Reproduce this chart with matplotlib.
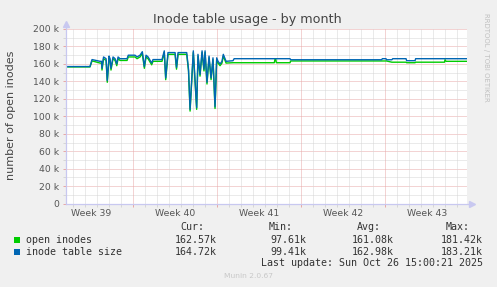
import matplotlib
matplotlib.use("Agg")
import matplotlib.pyplot as plt
from matplotlib.patches import Rectangle

plt.rcParams['font.family'] = ['DejaVu Sans']

# ---- data (days since Mon 2025-09-22 00:00, values in thousands) ----
days = [1.39, 3.39, 3.56, 4.23, 4.35, 4.39, 4.52, 4.73, 4.83, 4.98, 5.06, 5.14,
        5.31, 5.48, 5.62, 5.73, 5.89, 6.48, 6.58, 7.14, 7.31, 7.56, 7.75, 7.92,
        8.06, 8.23, 8.53, 8.64, 9.39, 9.58, 9.70, 9.89, 10.48, 10.60, 10.73,
        11.45, 11.60, 11.73, 12.00, 12.28, 12.39, 12.56, 12.73, 12.89, 12.98,
        13.14, 13.31, 13.48, 13.64, 13.81, 13.95, 14.06, 14.23, 14.39, 14.50,
        14.73, 15.31, 15.40, 18.75, 18.80, 18.88, 18.92, 20.06, 20.12, 27.70,
        27.75, 28.06, 28.10, 28.55, 28.62, 29.73, 29.78, 30.48, 30.53, 32.93,
        32.98, 33.06, 34.81]
inode_table_size = [157.0, 157.0, 165.0, 163.0, 163.0, 155.0, 168.0, 166.0, 141.0,
                    169.0, 166.0, 155.0, 168.0, 166.0, 160.0, 168.0, 166.0, 166.0,
                    170.0, 170.0, 168.0, 170.0, 174.0, 157.0, 170.0, 168.0, 161.0,
                    165.0, 165.0, 175.0, 144.0, 173.0, 173.0, 156.0, 173.0, 173.0,
                    154.0, 108.0, 175.0, 110.0, 171.0, 148.0, 175.0, 154.0, 175.0,
                    139.0, 169.0, 144.0, 167.0, 111.0, 167.0, 163.0, 160.0, 163.0,
                    171.0, 163.0, 163.7, 166.0, 166.0, 166.0, 166.0, 166.0, 166.0,
                    164.8, 164.8, 166.0, 166.0, 164.8, 164.8, 166.0, 166.0, 163.7,
                    163.7, 166.0, 166.0, 166.0, 166.0, 166.0]
open_inodes = [156.6, 156.6, 163.5, 161.0, 161.0, 153.0, 166.0, 164.0, 139.0,
               167.0, 164.0, 153.0, 166.0, 164.0, 158.0, 166.0, 164.0, 164.0,
               168.0, 168.0, 166.0, 168.0, 172.0, 155.0, 168.0, 166.0, 159.0,
               163.0, 163.0, 173.0, 142.0, 171.0, 171.0, 154.0, 171.0, 171.0,
               152.0, 106.0, 173.0, 108.0, 169.0, 146.0, 173.0, 152.0, 173.0,
               137.0, 167.0, 142.0, 165.0, 109.0, 165.0, 161.0, 158.0, 161.0,
               169.0, 161.0, 161.4, 161.4, 161.4, 165.0, 165.0, 161.4, 161.4,
               163.4, 163.4, 163.4, 163.4, 163.4, 162.0, 162.0, 162.0, 161.4,
               161.4, 162.0, 162.0, 164.8, 163.0, 163.0]

week_labels = ["Week 39", "Week 40", "Week 41", "Week 42", "Week 43"]
week_centers = [3.5, 10.5, 17.5, 24.5, 31.5]
week_bounds = [7, 14, 21, 28]
y_ticks = [0, 20, 40, 60, 80, 100, 120, 140, 160, 180, 200]
y_tick_labels = ["0"] + [f"{v} k" for v in y_ticks[1:]]

series_names = ["open inodes", "inode table size"]
series_colors = ["#00CC00", "#0066B3"]
stat_headers = ["Cur:", "Min:", "Avg:", "Max:"]
stats = [["162.57k", "97.61k", "161.08k", "181.42k"],
         ["164.72k", "99.41k", "162.98k", "183.21k"]]
last_update = "Last update: Sun Oct 26 15:00:21 2025"

# ---- figure ----
W, H = 497, 287
fig = plt.figure(figsize=(W / 100, H / 100), dpi=100, facecolor="#F0F0F0")

def fx(x):
    return x / W

def fy(y):
    return 1 - y / H

ax_l, ax_r, ax_t, ax_b = 66, 467, 29, 203.7
ax = fig.add_axes([fx(ax_l), fy(ax_b), (ax_r - ax_l) / W, (ax_b - ax_t) / H])
ax.set_facecolor("white")
xmin, xmax = 1.39, 34.81
ax.set_xlim(xmin, xmax)
ax.set_ylim(0, 200)
for s in ax.spines.values():
    s.set_visible(False)

minor_c = "#D6D6D6"
major_c = "#E8A8A8"
dash = (0, (1, 1))
# horizontal grid
for v in range(10, 201, 10):
    c = major_c if v % 20 == 0 else minor_c
    ax.axhline(v, color=c, lw=0.72, ls=dash, zorder=1)
# vertical grid
for d in range(2, 35):
    c = major_c if d % 7 == 0 else minor_c
    ax.axvline(d, color=c, lw=0.72, ls=dash, zorder=1)

# ticks
ax.set_yticks(y_ticks)
ax.set_yticklabels(y_tick_labels)
ax.set_yticks(list(range(10, 200, 20)), minor=True)
ax.tick_params(axis="y", which="major", length=2.5, width=0.72, color=major_c,
               pad=2.6, labelsize=6.7, labelcolor="#555555")
ax.tick_params(axis="y", which="minor", length=2.5, width=0.72, color=minor_c)
ax.set_xticks(week_bounds)
ax.set_xticklabels([])
ax.set_xticks([d for d in range(2, 35) if d % 7 != 0], minor=True)
ax.tick_params(axis="x", which="major", length=2.5, width=0.72, color=major_c)
ax.tick_params(axis="x", which="minor", length=2.5, width=0.72, color=minor_c)
for c, lab in zip(week_centers, week_labels):
    ax.annotate(lab, xy=(c, 0), xycoords=("data", "axes fraction"),
                xytext=(0, -6.9), textcoords="offset points",
                ha="center", va="center", fontsize=6.7, color="#555555")

# lines
ax.plot(days, open_inodes, color=series_colors[0], lw=1.0, zorder=3)
ax.plot(days, inode_table_size, color=series_colors[1], lw=1.0, zorder=4)

# axis lines with arrows
axis_c = "#C8C8F0"
ax.plot([0, 0], [0, 1 + 5 / (ax_b - ax_t)], transform=ax.transAxes, color=axis_c,
        lw=0.9, clip_on=False, zorder=5)
ax.plot([0], [1 + 5 / (ax_b - ax_t)], marker="^", ms=4, color=axis_c,
        transform=ax.transAxes, clip_on=False, zorder=5)
ax.plot([0, 1 + 5 / (ax_r - ax_l)], [0, 0], transform=ax.transAxes, color=axis_c,
        lw=0.9, clip_on=False, zorder=5)
ax.plot([1 + 5 / (ax_r - ax_l)], [0], marker=">", ms=4, color=axis_c,
        transform=ax.transAxes, clip_on=False, zorder=5)

# title and labels
fig.text(fx(247), fy(19), "Inode table usage - by month", ha="center", va="center",
         fontsize=9.2, color="#444444")
fig.text(fx(11), fy(115), "number of open inodes", rotation=90, ha="center",
         va="center", fontsize=8, color="#444444")
fig.text(fx(486), fy(57), "RRDTOOL / TOBI OETIKER", rotation=270, ha="center",
         va="center", fontsize=5, color="#C0C0C0")

# legend
mono = "DejaVu Sans Mono"
lc = "#333333"
hdr_x = [204, 293, 381, 470]
val_x = [217, 306, 394, 483]
for x, h in zip(hdr_x, stat_headers):
    fig.text(fx(x), fy(227.3), h, ha="right", va="center", family=mono,
             fontsize=7.2, color=lc)
row_y = [239.7, 251.7]
for name, col, row, y in zip(series_names, series_colors, stats, row_y):
    fig.patches.append(Rectangle((fx(14), fy(y + 3)), 6 / W, 6 / H,
                                 transform=fig.transFigure, facecolor=col,
                                 edgecolor="none"))
    fig.text(fx(26.3), fy(y), name, ha="left", va="center", family=mono,
             fontsize=7.2, color=lc)
    for x, v in zip(val_x, row):
        fig.text(fx(x), fy(y), v, ha="right", va="center", family=mono,
                 fontsize=7.2, color=lc)
fig.text(fx(483), fy(263.3), last_update, ha="right", va="center", family=mono,
         fontsize=7.2, color=lc)
fig.text(fx(248), fy(276), "Munin 2.0.67", ha="center", va="center",
         fontsize=5.4, color="#C8C8C8")

fig.savefig("out.png", dpi=100, facecolor=fig.get_facecolor())
